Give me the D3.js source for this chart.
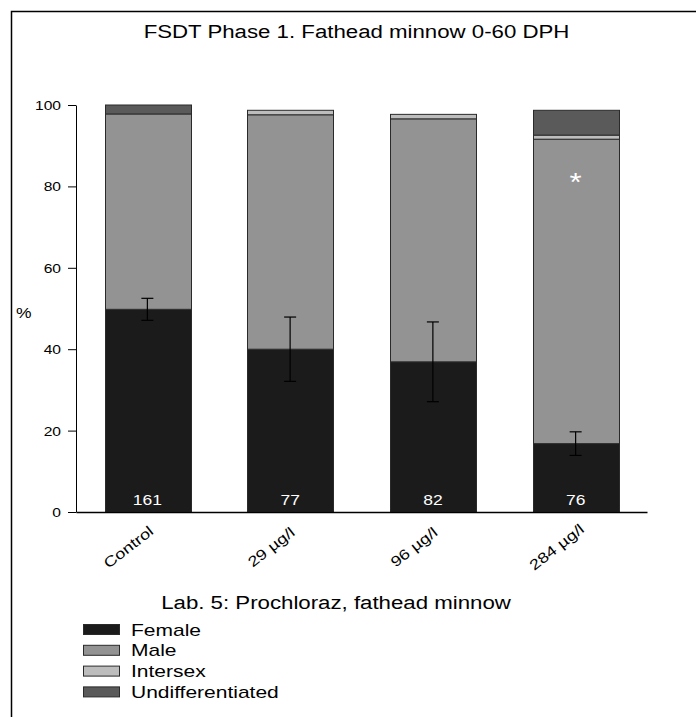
<!DOCTYPE html>
<html>
<head>
<meta charset="utf-8">
<script src="https://cdn.jsdelivr.net/npm/d3@7"></script>
<style>
  html, body { margin: 0; padding: 0; background: #fff; }
  svg text { font-family: "Liberation Sans", Arial, sans-serif; fill: #000; }
</style>
</head>
<body>
<svg id="chart" width="696" height="717"></svg>
<script>
// Sex ratio (%) of fathead minnow at 60 days post hatch, by prochloraz treatment
const categories = ["Control", "29 µg/l", "96 µg/l", "284 µg/l"];
const female = [49.8, 40.0, 36.9, 16.8];
const male = [48.0, 57.6, 59.7, 74.8];
const intersex = [0.0, 1.1, 1.1, 1.0];
const undifferentiated = [2.2, 0.0, 0.0, 6.1];
const femaleErr = [2.7, 7.9, 9.8, 2.9];
const counts = [161, 77, 82, 76];
const significant = [false, false, false, true];
const yTicks = [0, 20, 40, 60, 80, 100];
const seriesNames = ["Female", "Male", "Intersex", "Undifferentiated"];
const seriesColors = ["#1b1b1b", "#939393", "#bdbdbd", "#5a5a5a"];

const SX = 1.25; // horizontal glyph stretch used throughout the figure

const svg = d3.select("#chart");

// frame lines (left and top)
svg.append("path")
  .attr("d", "M11.5,717 V11.5 H696")
  .attr("fill", "none").attr("stroke", "#000").attr("stroke-width", 1.5);

// text helper with horizontal stretch
function label(g, x, y, str, size, anchor, extra) {
  const t = g.append("text")
    .attr("transform", `translate(${x},${y}) scale(${SX},1)`)
    .attr("font-size", size)
    .attr("text-anchor", anchor || "start")
    .text(str);
  if (extra) extra(t);
  return t;
}

label(svg, 356.5, 38, "FSDT Phase 1. Fathead minnow 0-60 DPH", 17.8, "middle");

const x = d3.scaleBand()
  .domain(categories)
  .range([76, 647])
  .paddingInner(0.4)
  .paddingOuter(0.2);

const y = d3.scaleLinear().domain([0, 100]).range([512, 105]);

// stacked layers
const rows = categories.map((c, i) => ({
  cat: c,
  Female: female[i],
  Male: male[i],
  Intersex: intersex[i],
  Undifferentiated: undifferentiated[i]
}));
const stack = d3.stack().keys(seriesNames)(rows);

const bars = svg.append("g");
stack.forEach((layer, li) => {
  bars.selectAll(null)
    .data(layer.filter(d => d[1] - d[0] > 0))
    .join("rect")
    .attr("x", d => Math.round(x(d.data.cat)) + 0.5)
    .attr("y", d => y(d[1]))
    .attr("width", Math.round(x.bandwidth()))
    .attr("height", d => y(d[0]) - y(d[1]))
    .attr("fill", seriesColors[li])
    .attr("stroke", "#2a2a2a")
    .attr("stroke-width", 1);
});

// female error bars
const err = svg.append("g").attr("stroke", "#000").attr("stroke-width", 1.2);
categories.forEach((c, i) => {
  const cx = x(c) + x.bandwidth() / 2;
  const lo = y(female[i] - femaleErr[i]);
  const hi = y(female[i] + femaleErr[i]);
  err.append("line").attr("x1", cx).attr("x2", cx).attr("y1", lo).attr("y2", hi);
  err.append("line").attr("x1", cx - 6).attr("x2", cx + 6).attr("y1", lo).attr("y2", lo);
  err.append("line").attr("x1", cx - 6).attr("x2", cx + 6).attr("y1", hi).attr("y2", hi);
});

// sample sizes inside the bars, significance marker in the male segment
categories.forEach((c, i) => {
  const cx = x(c) + x.bandwidth() / 2;
  label(svg, cx, 505, String(counts[i]), 14, "middle", t => t.style("fill", "#fff"));
  if (significant[i]) {
    const top = female[i] + male[i] + intersex[i];
    label(svg, cx, y(top) + 56, "*", 25, "middle", t => t.style("fill", "#fff"));
  }
});

// y axis
const yAxis = svg.append("g")
  .attr("transform", "translate(76,0)")
  .call(d3.axisLeft(y).tickValues(yTicks).tickSize(8).tickSizeOuter(0).tickPadding(7));
yAxis.select(".domain").attr("stroke", "#000");
yAxis.selectAll(".tick line").attr("stroke", "#000");
yAxis.selectAll(".tick text")
  .attr("font-size", 12.5)
  .attr("font-family", "Liberation Sans, Arial, sans-serif")
  .attr("dy", "0.36em")
  .each(function () {
    d3.select(this).attr("transform", `translate(-15,0) scale(${SX},1)`).attr("x", 0);
  });

label(svg, 16, 318, "%", 14, "start");

// x axis baseline and rotated category labels
const xAxis = svg.append("g")
  .attr("transform", "translate(0,512)")
  .call(d3.axisBottom(x).tickSize(0).tickSizeOuter(0).tickFormat(""));
xAxis.select(".domain").attr("stroke", "#000").attr("stroke-width", 1.5);

categories.forEach(c => {
  const cx = x(c) + x.bandwidth() / 2;
  svg.append("text")
    .attr("transform", `translate(${cx - 19},547) rotate(-38) scale(${SX},1)`)
    .attr("font-size", 14.5)
    .attr("text-anchor", "middle")
    .attr("dy", "0.35em")
    .text(c);
});

label(svg, 336, 609, "Lab. 5: Prochloraz, fathead minnow", 17.8, "middle");

// legend
const legend = svg.append("g");
seriesNames.forEach((name, i) => {
  const top = 624 + i * 20.8;
  legend.append("rect")
    .attr("x", 83.5).attr("y", top + 0.5)
    .attr("width", 36).attr("height", 10)
    .attr("fill", seriesColors[i])
    .attr("stroke", "#2a2a2a").attr("stroke-width", 1);
  label(legend, 131, top + 11.5, name, 16.8, "start");
});
</script>
</body>
</html>
